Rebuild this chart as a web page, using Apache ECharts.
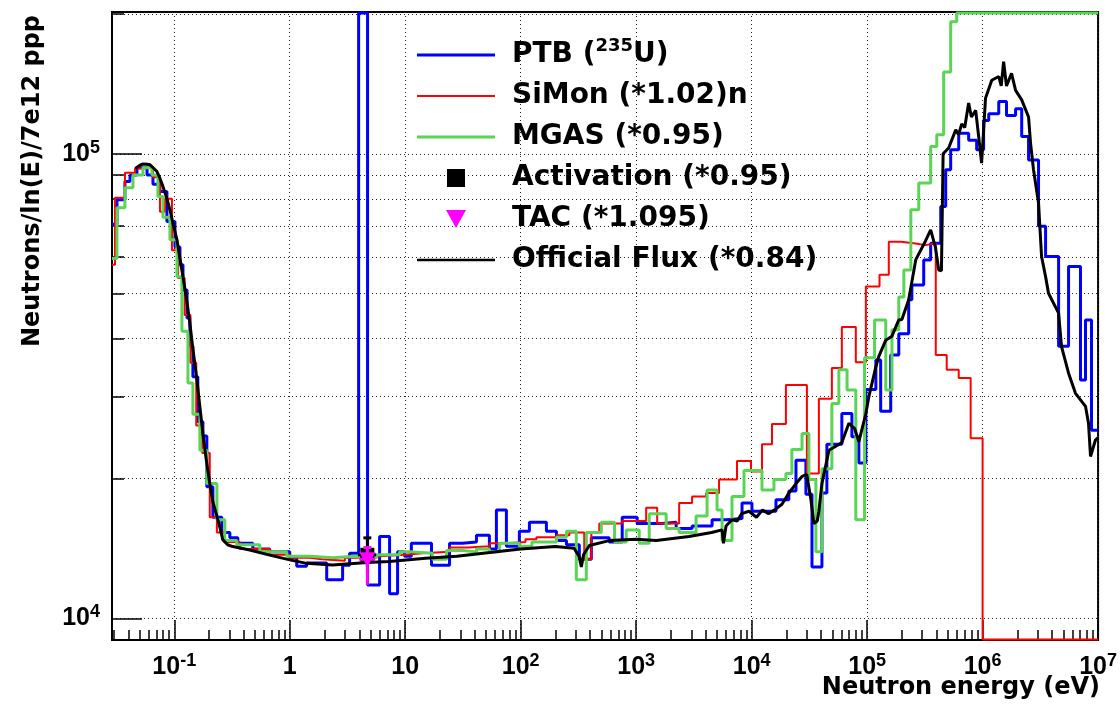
<!DOCTYPE html>
<html><head><meta charset="utf-8">
<script src="https://cdn.jsdelivr.net/npm/echarts@6/dist/echarts.min.js"></script>
<style>html,body{margin:0;padding:0;background:#fff}#c{width:1120px;height:706px}</style>
</head><body><div id="c"></div>
<script>
// ---------------- data ----------------
const seriesNames = ['PTB (235U)', 'SiMon (*1.02)n', 'MGAS (*0.95)', 'Activation (*0.95)', 'TAC (*1.095)', 'Official Flux (*0.84)'];

const xTickExponents = [-1, 0, 1, 2, 3, 4, 5, 6, 7];
const xTickLabels = ['10|-1', '1', '10', '10|2', '10|3', '10|4', '10|5', '10|6', '10|7'];
const yTickExponents = [4, 5];
const yTickLabels = ['10|4', '10|5'];

const xAxisTitle = 'Neutron energy (eV)';
const yAxisTitle = 'Neutrons/ln(E)/7e12 ppp';

// histogram bins: [lower bin edge (eV), value]; last entry closes the final bin
const ptbBins = [
[0.0289,70500],[0.0319,79600],[0.0374,87200],[0.0414,90000],[0.0475,93300],[0.0581,90000],[0.0654,86000],
[0.0752,83000],[0.0864,71500],[0.1014,63000],[0.112,57700],[0.119,50900],[0.129,44300],[0.1365,38500],
[0.145,33100],[0.160,26500],[0.177,24700],[0.1915,19200],[0.216,16500],[0.258,15300],[0.303,14900],
[0.355,14500],[0.479,14100],[0.671,13900],[1.0,13500],[1.15,12950],[1.40,13150],[2.09,12100],[2.87,13000],
[3.30,13800],[3.95,201000],[4.72,11800],[6.0,15000],[7.32,11300],[8.59,13900],[9.87,13600],[11.3,14500],
[16.9,13000],[24.2,14500],[31.3,14600],[41.4,15100],[53.6,14100],[61.6,17100],[75.2,14300],[97.4,15400],
[119,16100],[167,15400],[204,14700],[249,14400],[322,13400],[409,14900],[584,14600],[757,16500],[1020,16000],
[1679,16100],[2220,15600],[3050,15800],[4543,16300],[5998,16400],[8255,17700],[10060,17000],[16240,18000],
[21000,18800],[24200,21900],[29500,18500],[33300,12900],[40600,18600],[44800,23700],[60400,27600],
[73800,24600],[84800,21600],[97500,31100],[119000,36000],[131000,27900],[160000,36900],[188000,41000],
[229000,48500],[244000,52200],[309000,59100],[355000,64200],[434000,77000],[479000,92400],[529000,102000],
[621000,110800],[757000,107000],[888000,102000],[1020000,118000],[1130000,122000],[1380000,129600],
[1610000,121000],[1930000,125000],[2180000,109000],[2500000,97000],[3050000,69800],[3510000,60100],
[4550000,38500],[5550000,57200],[7040000,32600],[7780000,43900],[8770000,25400],[10000000,25400]
];

const simonBins = [
[0.0289,57700],[0.0307,80400],[0.0374,91000],[0.0457,93000],[0.0536,93800],[0.0654,89000],[0.0752,75000],
[0.083,80000],[0.0955,62000],[0.108,54000],[0.123,45000],[0.138,35500],[0.155,26000],[0.175,22700],
[0.203,16500],[0.234,15300],[0.274,14600],[0.370,14100],[0.671,13700],[1.0,13500],[1.49,13400],[1.9,13300],
[3.0,13500],[3.8,13600],[6.0,13700],[9.87,13800],[14.1,13900],[24.2,14200],[35,14300],[53.6,14500],
[75.2,14600],[110,14800],[137,14950],[204,15100],[264,15300],[355,13400],[409,15300],[479,16000],[757,16200],
[1221,17300],[1520,16000],[2356,17700],[3050,18300],[4035,18600],[5220,19900],[7465,21800],[9868,20700],
[12290,23700],[15000,26200],[19800,31800],[30100,20500],[38200,29700],[49500,34600],[60400,42400],
[79800,35600],[97500,51800],[128000,54900],[154000,64700],[196000,64200],[253000,63600],[321000,64200],
[393000,36900],[489000,34300],[621000,32900],[788000,24400],[1000000,9000],[10000000,9000]
];

const mgasBins = [
[0.0289,59500],[0.0319,76500],[0.0374,84500],[0.0439,90000],[0.0536,93300],[0.0641,90000],[0.0722,80900],
[0.0798,73000],[0.0918,65300],[0.1055,54400],[0.1165,41500],[0.1314,32100],[0.145,27500],[0.1667,23000],
[0.1915,19500],[0.234,16300],[0.274,14700],[0.348,14400],[0.551,13900],[0.942,13600],[1.49,13500],
[2.35,13600],[3.65,13500],[5.65,13700],[8.93,13900],[11.6,13800],[17.2,13400],[22.8,14000],[31.3,13900],
[41.4,14100],[53.6,13900],[65.4,14500],[97.4,14300],[125,14600],[204,14950],[249,15400],[303,12100],
[370,15300],[499,16100],[650,14600],[820,15500],[1062,14500],[1297,16800],[1819,15600],[2356,15300],
[3302,16600],[4112,18900],[5015,17100],[5543,14700],[6760,18300],[8585,20800],[12290,18900],[15600,19900],
[19800,20500],[22300,23100],[27300,25000],[31300,19900],[36000,13900],[40600,21000],[49500,29000],
[56900,34300],[67000,31000],[79800,16300],[95000,36400],[116000,43900],[145000,31000],[164000,41800],
[188000,49200],[208000,56200],[239000,75800],[280000,86500],[355000,103700],[401000,109900],
[460000,150000],[529000,192500],[597000,201000],[10000000,201000]
];

// official flux: [energy (eV), value]
const officialFlux = [
[0.046,93000],[0.0505,94500],[0.0536,95100],[0.058,95000],[0.0617,94700],[0.066,93200],[0.0708,91600],
[0.0752,88500],[0.0798,85100],[0.0864,80000],[0.0918,75700],[0.098,70500],[0.1055,65300],[0.112,59500],
[0.119,54400],[0.128,48500],[0.1365,43200],[0.145,38000],[0.156,33100],[0.166,28800],[0.177,25000],
[0.19,21800],[0.203,19500],[0.216,17800],[0.234,16600],[0.25,15600],[0.2635,14750],[0.29,14400],
[0.321,14270],[0.451,14030],[0.671,13680],[1.0,13360],[1.4,13130],[2.35,13020],[4.7,13180],[7.3,13250],
[15,13460],[28,13600],[54,13850],[100,14100],[200,14270],[290,14150],[320,13600],[335,12900],[350,13700],
[393,14350],[584,14700],[1000,14800],[1490,14700],[2870,15000],[4500,15300],[5540,15500],[5700,14500],
[6000,15800],[6760,16300],[7500,16200],[8200,16800],[9490,17000],[11000,16500],[12400,17100],[14000,16800],
[16200,17200],[18300,17600],[21000,18600],[24200,19500],[27300,20200],[30000,20400],[32600,18000],
[34600,16000],[37000,16200],[38200,17000],[40600,19500],[46700,23000],[54000,23500],[60400,23900],
[69500,26300],[78000,25600],[84800,24000],[97500,27600],[103500,30000],[119000,34800],[126000,36600],
[145000,39700],[164000,40500],[188000,43900],[200000,44000],[229000,48500],[264000,59200],[321000,65000],
[355000,68600],[390000,63000],[417000,56200],[440000,56000],[455000,100000],[508000,102900],
[585000,112600],[620000,110000],[659000,116000],[700000,114000],[757000,128600],[800000,120000],
[871000,124000],[924000,109000],[980000,95500],[1060000,131800],[1200000,144000],[1380000,146700],
[1450000,140000],[1520000,158000],[1610000,140000],[1780000,149000],[1930000,137000],[2180000,130700],
[2500000,120000],[2600000,105500],[2760000,92400],[3050000,78300],[3240000,60100],[3510000,54400],
[3720000,50100],[4550000,45400],[4820000,38500],[5550000,33700],[6370000,30500],[7780000,28600],
[8260000,26300],[8600000,22300],[9490000,24200],[10000000,24500]
];

// points: [E, value, E low, E high, value low, value high]
const activationPoints = [[4.7, 13700, 3.9, 5.6, 12900, 14900]];
const tacPoints = [[4.7, 13400, 4.0, 5.5, 11800, 14200]];

const xRange = [0.0289, 1e7];
const yRange = [8980, 202000];

// ---------------- chart ----------------
const AX_FONT = '"Liberation Sans", Arial, Helvetica, sans-serif';
const TXT_FONT = '"DejaVu Sans", sans-serif';
const dotted = {color: '#222', width: 1, type: [1, 3]};
const COLORS = ['#0000ff', '#ff0000', '#59d454', '#000000', '#ff00ff', '#000000'];

function powLabel(lbl) {
  const p = lbl.split('|');
  return p.length > 1 ? '{b|' + p[0] + '}{s|' + p[1] + '}' : '{b|' + p[0] + '}';
}
function makeFormatter(exps, labels) {
  return function (v) {
    const l = Math.log10(v), e = Math.round(l);
    if (Math.abs(l - e) > 1e-6) return '';
    const i = exps.indexOf(e);
    return i < 0 ? '' : powLabel(labels[i]);
  };
}
const axisRich = {
  b: {fontSize: 25, fontWeight: 'bold', fontFamily: AX_FONT, color: '#000', lineHeight: 30},
  s: {fontSize: 18, fontWeight: 'bold', fontFamily: AX_FONT, color: '#000', lineHeight: 18, verticalAlign: 'top'}
};

function errRender(shape) {
  return function (params, api) {
    const x = api.value(0), y = api.value(1);
    const c = api.coord([x, y]);
    const l = api.coord([api.value(2), y]), r = api.coord([api.value(3), y]);
    const b = api.coord([x, api.value(4)]), t = api.coord([x, api.value(5)]);
    const col = api.visual('color');
    const st = {stroke: col, lineWidth: 3};
    const ch = [
      {type: 'line', shape: {x1: l[0], y1: c[1], x2: r[0], y2: c[1]}, style: st},
      {type: 'line', shape: {x1: c[0], y1: b[1], x2: c[0], y2: t[1]}, style: st},
      {type: 'line', shape: {x1: c[0] - 4, y1: t[1], x2: c[0] + 4, y2: t[1]}, style: st}
    ];
    if (shape === 'square') {
      ch.push({type: 'rect', shape: {x: c[0] - 7, y: c[1] - 7, width: 14, height: 14}, style: {fill: col}});
    } else {
      ch.push({type: 'polygon', shape: {points: [[c[0] - 8, c[1] - 7], [c[0] + 8, c[1] - 7], [c[0], c[1] + 8]]}, style: {fill: col}});
    }
    return {type: 'group', children: ch};
  };
}

const legendRich = {
  n: {fontSize: 28, fontWeight: 'bold', fontFamily: TXT_FONT, color: '#000', lineHeight: 36, padding: [0, 0, 0, 12]},
  m: {fontSize: 28, fontWeight: 'bold', fontFamily: TXT_FONT, color: '#000', lineHeight: 36},
  s: {fontSize: 18, fontWeight: 'bold', fontFamily: TXT_FONT, color: '#000', lineHeight: 18, verticalAlign: 'top'}
};
function lineIcon(w) { return 'path://M0,0H78V' + w + 'H0Z'; }

const chart = echarts.init(document.getElementById('c'), null, {renderer: 'canvas'});
chart.setOption({
  animation: false,
  backgroundColor: '#fff',
  grid: {left: 112, right: 20, top: 12, bottom: 66, show: true, borderColor: '#000', borderWidth: 2, backgroundColor: 'transparent'},
  legend: {
    orient: 'vertical', left: 417, top: 37, padding: 0, itemWidth: 78, itemHeight: 18, itemGap: 13, selectedMode: false,
    data: [
      {name: seriesNames[0], icon: lineIcon(3), itemStyle: {color: COLORS[0], borderWidth: 0}},
      {name: seriesNames[1], icon: lineIcon(2), itemStyle: {color: COLORS[1], borderWidth: 0}},
      {name: seriesNames[2], icon: lineIcon(3), itemStyle: {color: COLORS[2], borderWidth: 0}},
      {name: seriesNames[3], icon: 'path://M0,0H10V10H0Z', itemStyle: {color: COLORS[3], borderWidth: 0}},
      {name: seriesNames[4], icon: 'path://M0,0H10L5,9Z', itemStyle: {color: COLORS[4], borderWidth: 0}},
      {name: seriesNames[5], icon: lineIcon(2.5), itemStyle: {color: COLORS[5], borderWidth: 0}}
    ],
    formatter: function (name) {
      if (name === seriesNames[0]) return '{n|PTB (}{s|235}{m|U)}';
      return '{n|' + name + '}';
    },
    textStyle: {rich: legendRich}
  },
  xAxis: {
    type: 'log', logBase: 10, min: xRange[0], max: xRange[1],
    axisLine: {show: true, onZero: false, lineStyle: {color: '#000', width: 2}},
    axisTick: {show: true, inside: true, length: 20, lineStyle: {color: '#000', width: 1.5}},
    minorTick: {show: true, splitNumber: 9, length: 10, lineStyle: {color: '#000', width: 1.5}},
    splitLine: {show: true, lineStyle: dotted},
    minorSplitLine: {show: false},
    axisLabel: {margin: 12, formatter: makeFormatter(xTickExponents, xTickLabels), rich: axisRich}
  },
  yAxis: {
    type: 'log', logBase: 10, min: yRange[0], max: yRange[1],
    axisLine: {show: true, onZero: false, lineStyle: {color: '#000', width: 2}},
    axisTick: {show: true, inside: true, length: 30, lineStyle: {color: '#000', width: 1.5}},
    minorTick: {show: true, splitNumber: 9, length: 12, lineStyle: {color: '#000', width: 1.5}},
    splitLine: {show: true, lineStyle: dotted},
    minorSplitLine: {show: true, lineStyle: dotted},
    axisLabel: {margin: 12, formatter: makeFormatter(yTickExponents, yTickLabels), rich: axisRich}
  },
  graphic: [
    {type: 'text', right: 20, top: 676, style: {text: xAxisTitle, font: 'bold 24px ' + TXT_FONT, fill: '#000'}},
    {type: 'text', x: 33, y: 15, rotation: Math.PI / 2,
      style: {text: yAxisTitle, font: 'bold 24px ' + TXT_FONT, fill: '#000', align: 'right', verticalAlign: 'middle'}}
  ],
  series: [
    {name: seriesNames[0], type: 'line', step: 'end', data: ptbBins, symbol: 'none', color: COLORS[0],
      lineStyle: {color: COLORS[0], width: 3}, z: 2},
    {name: seriesNames[1], type: 'line', step: 'end', data: simonBins, symbol: 'none', color: COLORS[1],
      lineStyle: {color: COLORS[1], width: 2}, z: 2},
    {name: seriesNames[2], type: 'line', step: 'end', data: mgasBins, symbol: 'none', color: COLORS[2],
      lineStyle: {color: COLORS[2], width: 3}, z: 2},
    {name: seriesNames[5], type: 'line', data: officialFlux, symbol: 'none', color: COLORS[5],
      lineStyle: {color: COLORS[5], width: 3}, z: 3},
    {name: seriesNames[3], type: 'custom', data: activationPoints, encode: {x: 0, y: 1},
      itemStyle: {color: COLORS[3]}, renderItem: errRender('square'), z: 4},
    {name: seriesNames[4], type: 'custom', data: tacPoints, encode: {x: 0, y: 1},
      itemStyle: {color: COLORS[4]}, renderItem: errRender('triangle'), z: 5}
  ]
});
</script>
</body></html>
